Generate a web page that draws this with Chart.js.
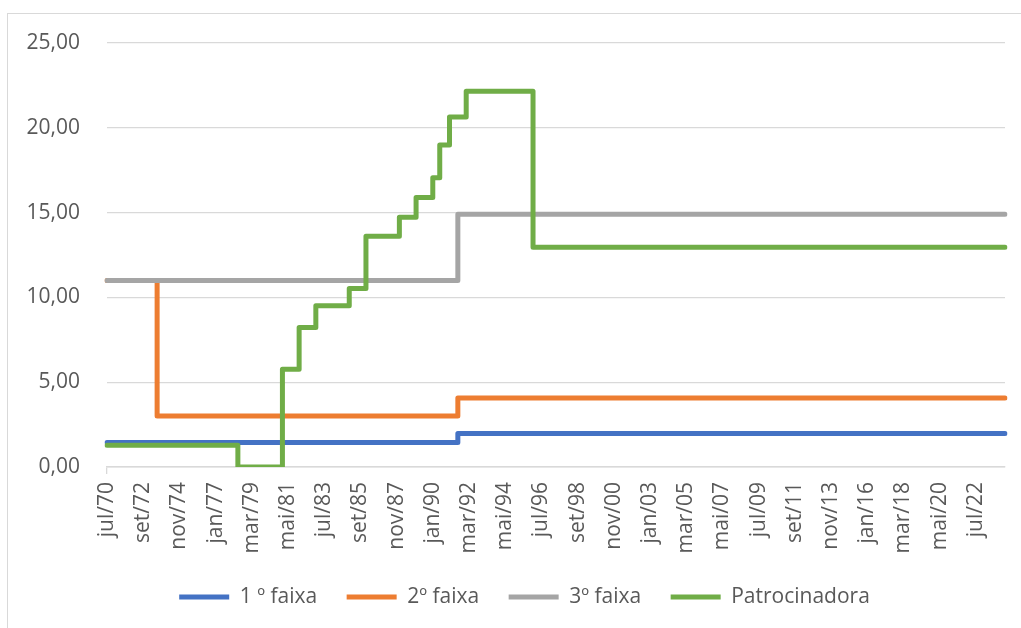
<!DOCTYPE html>
<html lang="pt">
<head>
<meta charset="utf-8">
<script src="https://cdn.jsdelivr.net/npm/chart.js@4.4.1/dist/chart.umd.min.js"></script>
<style>
  html, body { margin: 0; padding: 0; background: #fff; overflow: hidden; }
  #frame { position: absolute; left: 7px; top: 13px; width: 1100px; height: 700px;
           border-left: 1px solid #d9d9d9; border-top: 1px solid #d9d9d9; }
  #chart { position: absolute; left: 0; top: 0; }
</style>
</head>
<body>
<div id="frame"></div>
<canvas id="chart" width="1021" height="640"></canvas>
<script>
// ===== DATA =====
const monthNames = ['jan', 'fev', 'mar', 'abr', 'mai', 'jun', 'jul', 'ago', 'set', 'out', 'nov', 'dez'];
const firstYear = 1970;
const firstMonth = 6;      // jul
const monthCount = 646;    // jul/70 .. abr/24
const labelEvery = 26;     // one tick label every 26 months

const categories = [];
for (let i = 0; i < monthCount; i++) {
  const m = (firstMonth + i) % 12;
  const y = firstYear + Math.floor((firstMonth + i) / 12);
  categories.push(monthNames[m] + '/' + String(y % 100).padStart(2, '0'));
}

// each series: month where the value changes, and the new value
const faixa1Months = ['jul/70', 'jul/91'];
const faixa1Values = [1.45, 1.97];

const faixa2Months = ['jul/70', 'jul/73', 'jul/91'];
const faixa2Values = [11.0, 3.0, 4.07];

const faixa3Months = ['jul/70', 'jul/91'];
const faixa3Values = [11.0, 14.9];

const patrocMonths = ['jul/70', 'mai/78', 'jan/81', 'jan/82', 'jan/83', 'jan/85', 'jan/86',
                      'jan/88', 'jan/89', 'jan/90', 'jun/90', 'jan/91', 'jan/92', 'jan/96'];
const patrocValues = [1.28, 0, 5.76, 8.22, 9.51, 10.52, 13.6,
                      14.73, 15.89, 17.06, 18.98, 20.64, 22.15, 12.95];

const yTicks = [0, 5, 10, 15, 20, 25];

// ===== HELPERS =====
function toPoints(months, values) {
  const pts = months.map((m, i) => ({ x: m, y: values[i] }));
  // hold the last value to the end of the axis
  pts.push({ x: categories[categories.length - 1], y: values[values.length - 1] });
  return pts;
}

const FONT = "'Open Sans', 'Liberation Sans', sans-serif";
const TEXT = '#595959';
const GRID = '#d9d9d9';

function series(label, months, values, color, order) {
  return {
    label,
    data: toPoints(months, values),
    borderColor: color,
    backgroundColor: color,
    borderWidth: 5,
    borderCapStyle: 'round',
    borderJoinStyle: 'round',
    stepped: 'before',
    pointRadius: 0,
    pointHoverRadius: 0,
    tension: 0,
    order,
  };
}

// legend is centred on the whole frame, which runs past the right edge
const legendShift = {
  id: 'legendShift',
  afterLayout(chart) { chart.legend.left += 17; }
};

// ===== CHART =====
new Chart(document.getElementById('chart'), {
  type: 'line',
  data: {
    labels: categories,
    datasets: [
      series('1 º faixa', faixa1Months, faixa1Values, '#4472C4', 4),
      series('2º faixa', faixa2Months, faixa2Values, '#ED7D31', 3),
      series('3º faixa', faixa3Months, faixa3Values, '#A5A5A5', 2),
      series('Patrocinadora', patrocMonths, patrocValues, '#70AD47', 1),
    ]
  },
  plugins: [legendShift],
  options: {
    responsive: false,
    animation: false,
    layout: { padding: { left: 27, right: 16, top: 43, bottom: 22.5 } },
    plugins: {
      tooltip: { enabled: false },
      legend: {
        position: 'bottom',
        labels: {
          usePointStyle: true,
          pointStyle: 'line',
          pointStyleWidth: 50,
          padding: 29.5,
          color: TEXT,
          font: { family: FONT, size: 21 },
          sort: (a, b) => a.datasetIndex - b.datasetIndex,
        }
      }
    },
    scales: {
      x: {
        type: 'category',
        afterFit: (s) => { s.height = 90; },
        grid: {
          drawOnChartArea: false,
          drawTicks: true,
          tickLength: 7,
          lineWidth: 1.3,
          color: (c) => (c.index % labelEvery === 0 ? GRID : 'rgba(0,0,0,0)'),
        },
        border: { display: true, color: GRID, width: 1.5 },
        ticks: {
          autoSkip: false,
          minRotation: 90,
          maxRotation: 90,
          padding: 8,
          color: TEXT,
          font: { family: FONT, size: 21 },
          callback: function (v, i) {
            return i % labelEvery === 0 ? this.getLabelForValue(v) : null;
          }
        }
      },
      y: {
        min: yTicks[0],
        max: yTicks[yTicks.length - 1],
        afterFit: (s) => { s.width = 80; },
        afterBuildTicks: (s) => { s.ticks = yTicks.map(v => ({ value: v })); },
        grid: { color: GRID, lineWidth: 1.3, drawTicks: false },
        border: { display: false },
        ticks: {
          padding: 27,
          color: TEXT,
          font: { family: FONT, size: 21 },
          callback: (v) => v.toFixed(2).replace('.', ','),
        }
      }
    }
  }
});
</script>
</body>
</html>
